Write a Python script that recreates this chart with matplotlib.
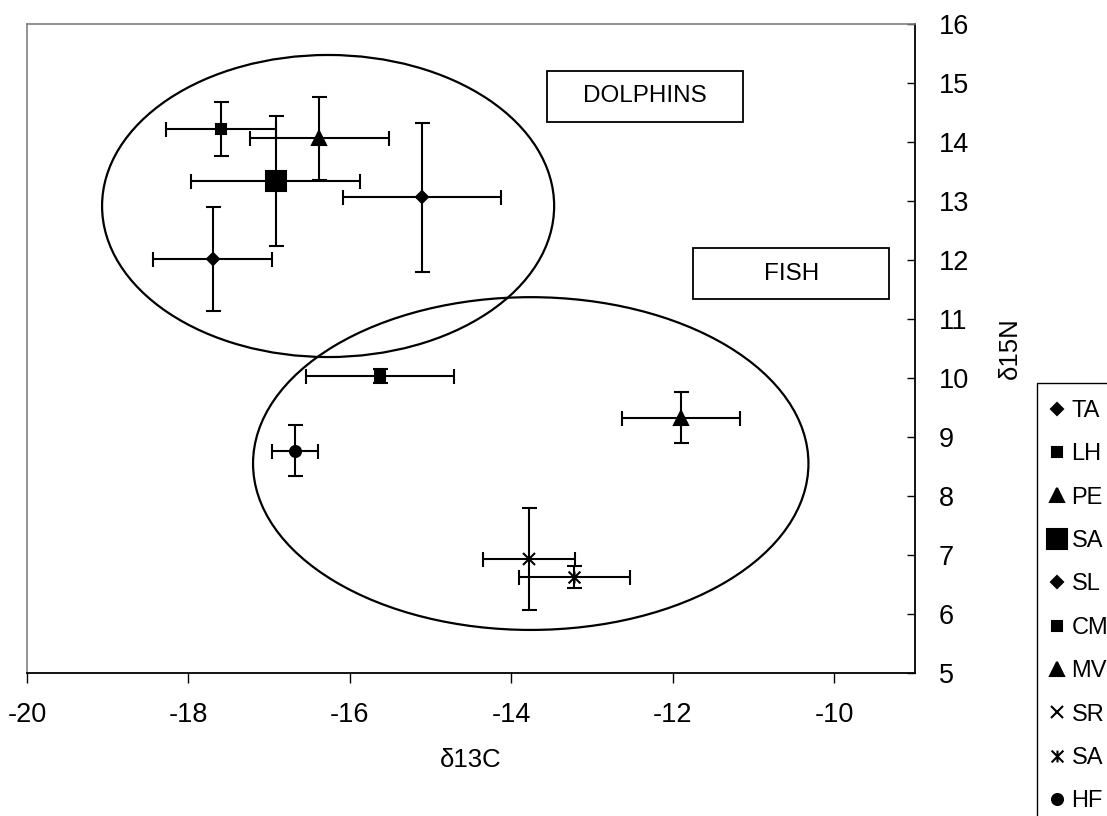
import matplotlib
matplotlib.use("Agg")
import matplotlib.pyplot as plt
from matplotlib.lines import Line2D
from matplotlib.patches import Ellipse, Rectangle
from matplotlib.path import Path

plt.rcParams["font.family"] = ["Liberation Sans", "DejaVu Sans"]
plt.rcParams["axes.unicode_minus"] = False

# species / sample codes, in legend order
labels = ["TA", "LH", "PE", "SA", "SL", "CM", "MV", "SR", "SA", "HF"]
d13c = [-17.70, -17.60, -16.38, -16.92, -15.11, -15.63, -11.90, -13.78, -13.22, -16.68]
d13c_err = [0.74, 0.68, 0.86, 1.05, 0.98, 0.92, 0.73, 0.57, 0.69, 0.29]
d15n = [12.02, 14.22, 14.06, 13.34, 13.06, 10.03, 9.33, 6.93, 6.63, 8.77]
d15n_err = [0.88, 0.45, 0.70, 1.10, 1.27, 0.12, 0.43, 0.86, 0.19, 0.43]

# group ellipses: centre x, centre y, width, height (data units)
groups = ["DOLPHINS", "FISH"]
ell_cx = [-16.27, -13.76]
ell_cy = [12.915, 8.55]
ell_w = [5.60, 6.88]
ell_h = [5.12, 5.64]

# excel style asterisk: x with a vertical stroke
asterisk = Path(
    [(-1, -1), (1, 1), (-1, 1), (1, -1), (0, -1), (0, 1)],
    [Path.MOVETO, Path.LINETO, Path.MOVETO, Path.LINETO, Path.MOVETO, Path.LINETO],
)
markers = ["D", "s", "^", "s", "D", "s", "^", "x", asterisk, "o"]
msizes = [6.6, 7.9, 10, 13.7, 6.6, 7.9, 10, 8, 8.5, 7.9]


def marker_kw(m, s):
    face = "none" if m is asterisk else "black"
    return dict(linestyle="none", marker=m, ms=s, color="black",
                mfc=face, mec="black", mew=1.5)


fig = plt.figure(figsize=(11.07, 8.16), dpi=100)
W, H = 1107, 816
ax = fig.add_axes([27 / W, 1 - 673 / H, (915 - 27) / W, (673 - 24) / H])

for i in range(len(labels)):
    ax.errorbar(
        d13c[i], d15n[i], xerr=d13c_err[i], yerr=d15n_err[i],
        fmt="none", ecolor="black", elinewidth=1.5, capsize=5.4, capthick=1.5, zorder=3,
    )
    ax.plot(d13c[i], d15n[i], zorder=4, **marker_kw(markers[i], msizes[i]))

for cx, cy, w, h in zip(ell_cx, ell_cy, ell_w, ell_h):
    ax.add_patch(Ellipse((cx, cy), w, h, fill=False, edgecolor="black", lw=1.6, zorder=2))

ax.set_xlim(-20, -9)
ax.set_ylim(5, 16)
ax.set_xticks(range(-20, -9, 2))
ax.set_yticks(range(5, 17))
ax.yaxis.tick_right()
ax.yaxis.set_label_position("right")
ax.tick_params(axis="x", direction="out", length=7, width=1, colors="black",
               labelsize=19.5, pad=14)
ax.tick_params(axis="y", direction="in", length=6, width=1, colors="black",
               labelsize=19.5, pad=17)
for side in ["top", "left"]:
    ax.spines[side].set_color("#808080")
    ax.spines[side].set_linewidth(1.2)
for side in ["bottom", "right"]:
    ax.spines[side].set_color("black")
    ax.spines[side].set_linewidth(1.3)

fig.text(471 / W, 1 - 760 / H, "δ13C", fontsize=18.5, ha="center", va="center")
fig.text(1010 / W, 1 - 348 / H, "δ15N", fontsize=18.5, ha="center", va="center",
         rotation=90)

# group name boxes (axes fraction)
box_x0 = [0.5853, 0.7503]
box_y0 = [0.8495, 0.5758]
box_w, box_h = 0.2207, 0.0786
for name, bx, by in zip(groups, box_x0, box_y0):
    ax.add_patch(Rectangle((bx, by), box_w, box_h, transform=ax.transAxes,
                           fill=False, edgecolor="black", lw=1.3, zorder=5))
    ax.text(bx + box_w / 2, by + box_h / 2, name, transform=ax.transAxes,
            ha="center", va="center", fontsize=17.5, zorder=6)

# legend, partly cut off by the figure edge like the original
handles = [Line2D([], [], **marker_kw(m, s)) for m, s in zip(markers, msizes)]
fig.legend(handles, labels, loc="upper left", bbox_to_anchor=(1049 / W, 1 - 400 / H),
           frameon=False, fontsize=17, borderpad=0, borderaxespad=0,
           handlelength=0.7, handletextpad=0.25, labelspacing=0.905, numpoints=1)
fig.patches.append(Rectangle((1037 / W, -0.1), 0.3, (816 - 383) / H + 0.1,
                             transform=fig.transFigure, fill=False,
                             edgecolor="black", lw=1))

fig.savefig("out.png", dpi=100)
